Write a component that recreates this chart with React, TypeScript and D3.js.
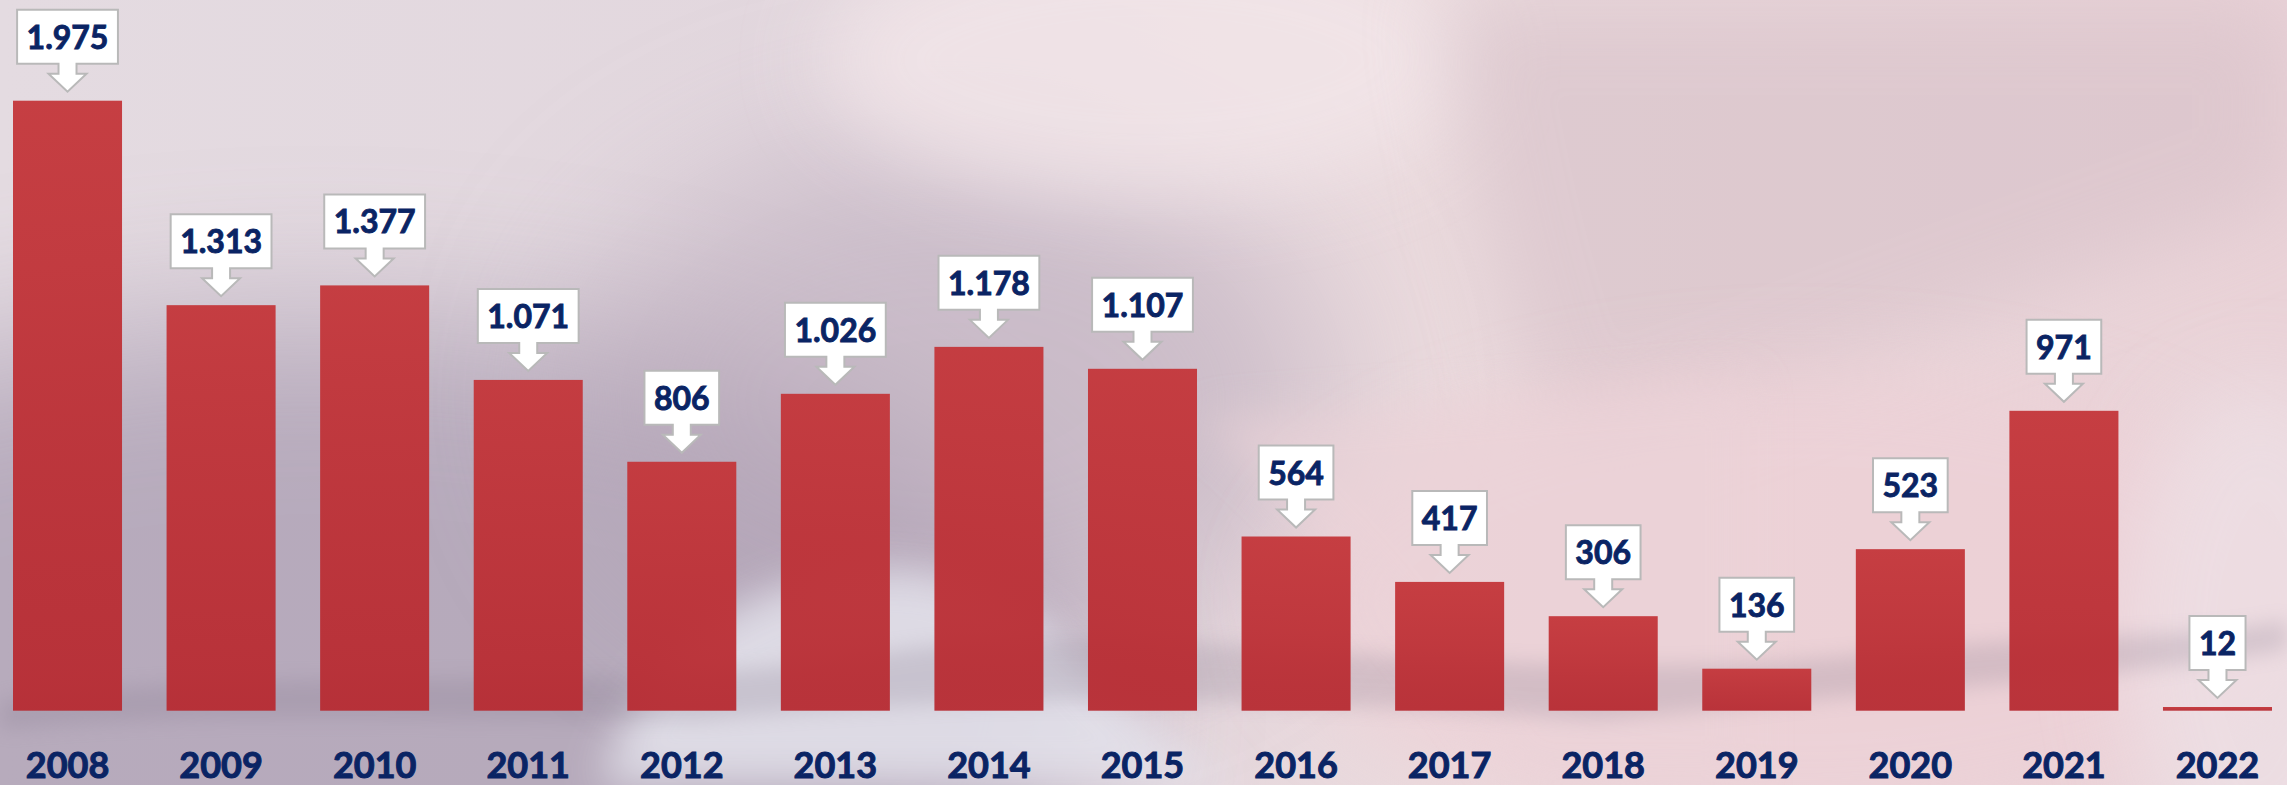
import { useMemo } from 'react';
import * as d3 from 'd3';

// data
const years = ['2008', '2009', '2010', '2011', '2012', '2013', '2014', '2015', '2016', '2017', '2018', '2019', '2020', '2021', '2022'];
const counts = [1975, 1313, 1377, 1071, 806, 1026, 1178, 1107, 564, 417, 306, 136, 523, 971, 12];
const labels = ['1.975', '1.313', '1.377', '1.071', '806', '1.026', '1.178', '1.107', '564', '417', '306', '136', '523', '971', '12'];

const W = 2287;
const H = 785;
const baseY = 710.7;
const topY = 100.7;
const navy = '#0a2464';
const labelFont = 'bold 32px Lato';

// measure text for the callout boxes
function textWidth(t: string, font: string) {
  const c = document.createElement('canvas');
  const ctx = c.getContext('2d');
  if (!ctx) return t.length * 18;
  ctx.font = font;
  return ctx.measureText(t).width;
}

function calloutPath(cx: number, tipY: number, w: number) {
  // box + downward arrow, drawn as one outline
  const boxH = 54, shaftH = 10, headH = 18, shaftW = 18, headW = 38;
  const bottom = tipY - headH - shaftH;
  const top = bottom - boxH;
  const l = cx - w / 2, r = cx + w / 2;
  return [
    `M${l},${top}`, `L${r},${top}`, `L${r},${bottom}`,
    `L${cx + shaftW / 2},${bottom}`, `L${cx + shaftW / 2},${bottom + shaftH}`,
    `L${cx + headW / 2},${bottom + shaftH}`, `L${cx},${tipY}`,
    `L${cx - headW / 2},${bottom + shaftH}`, `L${cx - shaftW / 2},${bottom + shaftH}`,
    `L${cx - shaftW / 2},${bottom}`, `L${l},${bottom}`, 'Z',
  ].join(' ');
}

export default function App() {
  const x = useMemo(() => d3.scaleBand<string>().domain(years).range([13, 2272]).paddingInner(0.29).paddingOuter(0), []);
  const y = useMemo(() => d3.scaleLinear().domain([0, 1975]).range([baseY, topY]), []);

  return (
    <svg width={W} height={H} style={{ position: 'absolute', left: 0, top: 0 }} fontFamily="Lato, 'Open Sans', sans-serif">
      <defs>
        <linearGradient id="bg" x1="0" x2="1" y1="0" y2="0">
          <stop offset="0" stopColor="#e4dbe1" />
          <stop offset="0.45" stopColor="#e2d6dd" />
          <stop offset="0.62" stopColor="#eadadd" />
          <stop offset="1" stopColor="#e9d2d7" />
        </linearGradient>
        <linearGradient id="barFill" x1="0" x2="0" y1="0" y2="1">
          <stop offset="0" stopColor="#c4363a" />
          <stop offset="1" stopColor="#b72b32" />
        </linearGradient>
        <filter id="blur80" x="-50%" y="-50%" width="200%" height="200%"><feGaussianBlur stdDeviation="80" /></filter>
        <filter id="blur40" x="-50%" y="-50%" width="200%" height="200%"><feGaussianBlur stdDeviation="40" /></filter>
        <filter id="blur20" x="-50%" y="-50%" width="200%" height="200%"><feGaussianBlur stdDeviation="20" /></filter>
        <filter id="blur10" x="-50%" y="-50%" width="200%" height="200%"><feGaussianBlur stdDeviation="10" /></filter>
      </defs>

      {/* background */}
      <rect width={W} height={H} fill="url(#bg)" />
      <ellipse cx={320} cy={700} rx={780} ry={380} fill="#a497ad" opacity={0.7} filter="url(#blur80)" />
      <ellipse cx={950} cy={400} rx={380} ry={260} fill="#b3a3b5" opacity={0.5} filter="url(#blur80)" />
      <ellipse cx={1150} cy={60} rx={330} ry={140} fill="#f3e6e9" opacity={0.8} filter="url(#blur40)" />
      <path d="M1440,0 C1470,150 1490,300 1560,460 C1700,420 2000,300 2287,200 L2287,0 Z" fill="#d5bfc7" opacity={0.55} filter="url(#blur40)" />
      <ellipse cx={1800} cy={600} rx={520} ry={230} fill="#eecfd5" opacity={0.6} filter="url(#blur40)" />
      <ellipse cx={2260} cy={640} rx={140} ry={260} fill="#eee2e7" opacity={0.7} filter="url(#blur40)" />
      <path d="M1200,420 C1320,520 1420,640 1520,785 L1750,785 L1750,380 Z" fill="#ebd3d8" opacity={0.6} filter="url(#blur20)" />
      <path d="M600,785 C640,660 720,590 860,570 C960,560 1020,600 1080,660 C1130,710 1180,760 1240,785 Z" fill="#e4e3ec" opacity={0.85} filter="url(#blur20)" />
      <path d="M0,700 C300,660 600,700 900,650 C1200,610 1500,700 1900,650 C2100,630 2200,640 2287,620 L2287,650 C2100,680 1900,690 1600,720 C1300,700 1000,690 700,720 C400,720 200,710 0,730 Z" fill="#7e7286" opacity={0.22} filter="url(#blur10)" />

      {/* bars */}
      {years.map((yr, i) => (
        <rect key={yr} x={x(yr)} y={y(counts[i])} width={x.bandwidth()} height={baseY - y(counts[i])} fill="url(#barFill)" opacity={0.95} />
      ))}

      {/* value callouts */}
      {years.map((yr, i) => {
        const cx = (x(yr) ?? 0) + x.bandwidth() / 2;
        const tipY = y(counts[i]) - 9;
        const w = textWidth(labels[i], labelFont) + 19;
        const boxTop = tipY - 28 - 54;
        return (
          <g key={'l' + yr}>
            <path d={calloutPath(cx, tipY, w)} fill="#ffffff" stroke="#b9b9b9" strokeWidth={2} strokeLinejoin="miter" />
            <text x={cx} y={boxTop + 39} textAnchor="middle" fontSize={32} fontWeight="bold" fill={navy} stroke={navy} strokeWidth={0.9}>{labels[i]}</text>
          </g>
        );
      })}

      {/* category axis */}
      {years.map((yr) => (
        <text key={'t' + yr} x={(x(yr) ?? 0) + x.bandwidth() / 2} y={778} textAnchor="middle" fontSize={36} fontWeight="bold" fill={navy} stroke={navy} strokeWidth={1}>{yr}</text>
      ))}
    </svg>
  );
}
